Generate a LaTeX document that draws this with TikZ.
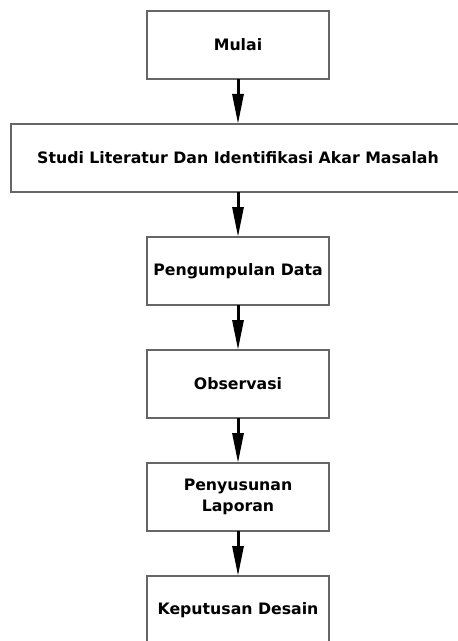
\documentclass[tikz,border=0pt]{standalone}
\usepackage{fontspec}
\setmainfont{DejaVu Sans}
\usetikzlibrary{positioning,arrows.meta}

\begin{document}
\begin{tikzpicture}[x=1bp,y=1bp,
  kotak/.style={draw=black!60,line width=1.3bp,fill=white,minimum width=182bp,minimum height=68bp,
    align=center,inner sep=2bp,outer sep=0pt,font=\bfseries\fontsize{15.8}{21}\selectfont},
  panah/.style={line width=3bp,-{Triangle[length=30bp,width=11bp]}},
  node distance=45bp]
 \useasboundingbox (0,0) rectangle (458,-641);
 % tahapan
 \node[kotak] (mulai) at (238,-45) {Mulai};
 \node[kotak,minimum width=454bp,below=of mulai] (studi) {Studi Literatur Dan Identifikasi Akar Masalah};
 \node[kotak,below=of studi] (data) {Pengumpulan Data};
 \node[kotak,below=of data] (observasi) {Observasi};
 \node[kotak,below=of observasi] (laporan) {Penyusunan\\Laporan};
 \node[kotak,below=of laporan] (desain) {Keputusan Desain};
 % panah
 \draw[panah] (mulai) -- (studi);
 \draw[panah] (studi) -- (data);
 \draw[panah] (data) -- (observasi);
 \draw[panah] (observasi) -- (laporan);
 \draw[panah] (laporan) -- (desain);
\end{tikzpicture}
\end{document}
